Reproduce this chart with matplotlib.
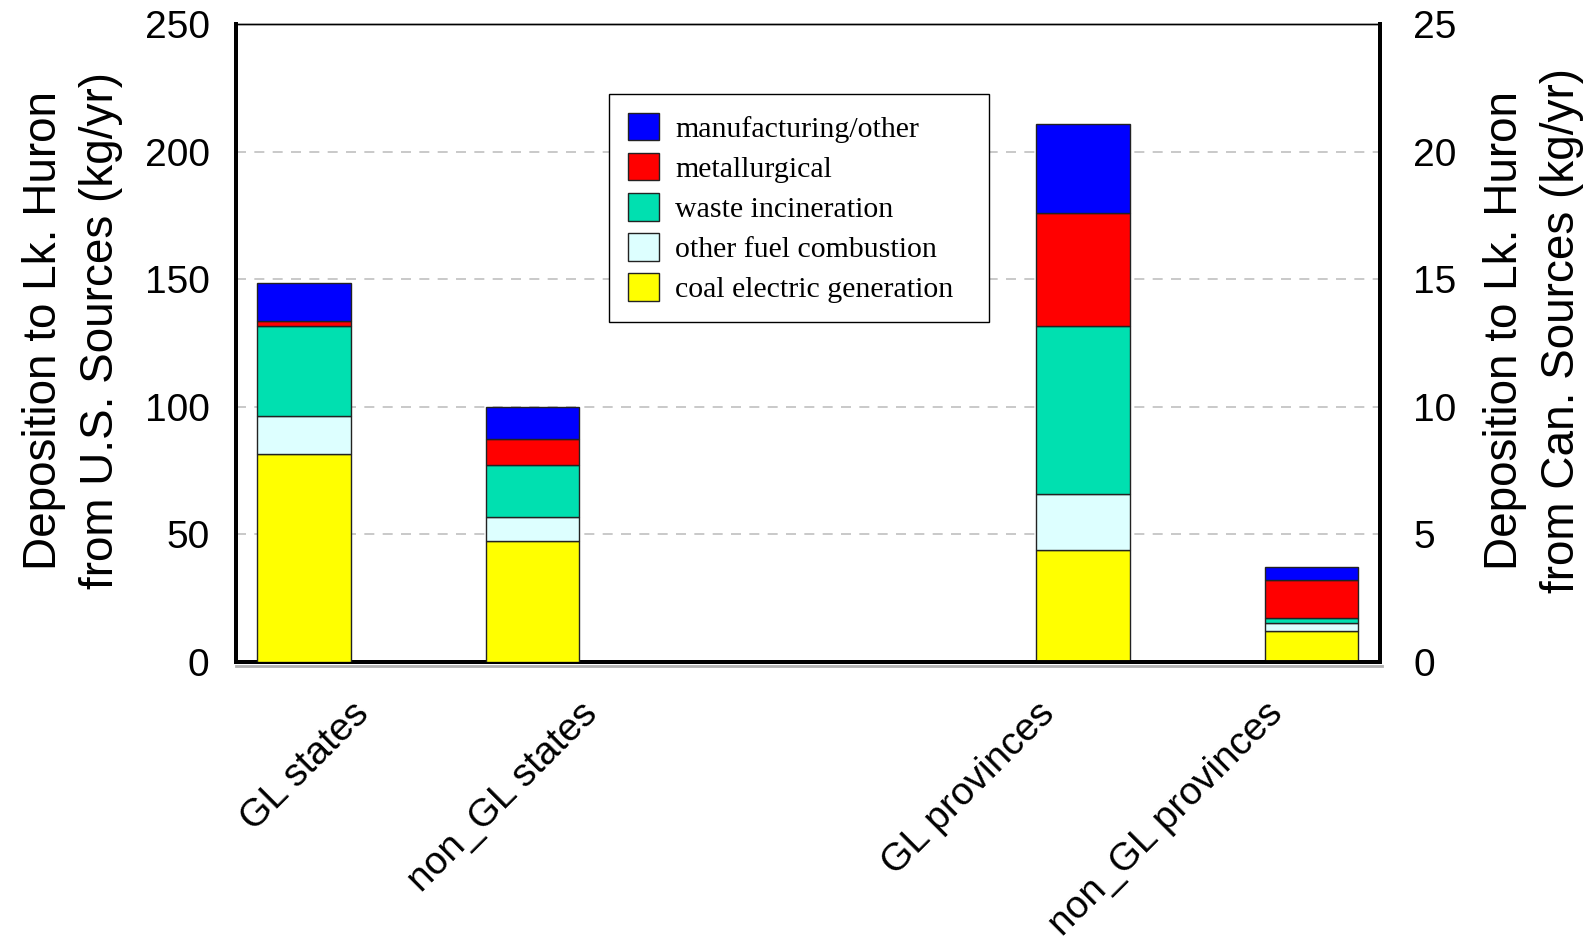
"""
Deposicion a Lk. Huron por tipo de fuente (EE.UU. vs Canada).
"""
import matplotlib
matplotlib.use('Agg')
import matplotlib.pyplot as plt
import numpy as np

plt.rcParams['font.family'] = ['Liberation Sans', 'DejaVu Sans']

# Datos (kg/yr)
categorias_us = ['GL states', 'non_GL states']
categorias_can = ['GL provinces', 'non_GL provinces']
fuentes = ['coal electric generation', 'other fuel combustion', 'waste incineration',
           'metallurgical', 'manufacturing/other']

# eje izquierdo (U.S.)
us_coal = [81.5, 47.5]
us_other_fuel = [15.0, 9.5]
us_waste = [35.0, 20.0]
us_metal = [2.0, 10.5]
us_manuf = [15.0, 12.5]

# eje derecho (Canada)
can_coal = [4.4, 1.2]
can_other_fuel = [2.2, 0.32]
can_waste = [6.55, 0.21]
can_metal = [4.45, 1.47]
can_manuf = [3.5, 0.53]

colores = ['#FFFF00', '#DDFFFF', '#00E0B0', '#FF0000', '#0000FF']

fig = plt.figure(figsize=(15.94, 9.42), dpi=100)
ax = fig.add_axes([236 / 1594, 1 - 662 / 942, (1380 - 236) / 1594, (662 - 24) / 942])
ax2 = ax.twinx()

# posiciones de las etiquetas y de las barras
x_etiquetas = np.array([0.0, 1.0, 3.0, 4.0])
ancho = 0.41
x_us = x_etiquetas[:2]
x_can = x_etiquetas[2:] + ancho

def apilar(eje, x, series):
    base = np.zeros(len(x))
    barras = []
    for valores, color in zip(series, colores):
        b = eje.bar(x, valores, ancho, bottom=base, color=color,
                    edgecolor='#222222', linewidth=1.0, zorder=3)
        barras.append(b)
        base = base + np.array(valores)
    return barras

barras = apilar(ax, x_us, [us_coal, us_other_fuel, us_waste, us_metal, us_manuf])
apilar(ax2, x_can, [can_coal, can_other_fuel, can_waste, can_metal, can_manuf])

ax.set_xlim(-0.298, 4.71)
ax.set_ylim(0, 250)
ax2.set_ylim(0, 25)
ax.set_yticks(np.arange(0, 251, 50))
ax2.set_yticks(np.arange(0, 26, 5))
ax.tick_params(axis='y', length=0, labelsize=28, pad=19)
ax2.tick_params(axis='y', length=0, labelsize=28, pad=24)

# lineas de cuadricula (detras de todas las barras)
for v in [5, 10, 15, 20]:
    ax2.axhline(v, color='#c0c0c0', linestyle=(0, (6, 5)), linewidth=1.2, zorder=1)

ax.set_xticks(x_etiquetas)
ax.set_xticklabels([])
ax.tick_params(axis='x', length=0)
for xi, etiqueta in zip(x_etiquetas, categorias_us + categorias_can):
    ax.annotate(etiqueta, xy=(xi, 0), xycoords=('data', 'axes fraction'),
                xytext=(47, -34), textcoords='offset pixels',
                rotation=45, rotation_mode='anchor', ha='right', va='top',
                fontsize=28)

ax.set_ylabel('Deposition to Lk. Huron\nfrom U.S. Sources (kg/yr)', fontsize=33,
              linespacing=1.38)
ax.yaxis.set_label_coords(-0.0988, 0.52)
ax2.set_ylabel('Deposition to Lk. Huron\nfrom Can. Sources (kg/yr)', fontsize=33,
               linespacing=1.38, rotation=90)
ax2.yaxis.set_label_coords(1.09, 0.52)

for eje in (ax, ax2):
    eje.spines['top'].set_linewidth(1.0)
    eje.spines['left'].set_linewidth(2.8)
    eje.spines['bottom'].set_linewidth(2.8)
    eje.spines['right'].set_linewidth(2.8)
ax.set_zorder(ax2.get_zorder() + 1)
ax.patch.set_visible(False)

# sombra gris bajo el eje x
ax.plot([0, 1.002], [-0.006, -0.006], transform=ax.transAxes, color='#b0b0b0',
        linewidth=2, clip_on=False, zorder=0)

leg = ax.legend(barras[::-1], fuentes[::-1], loc='upper left',
                bbox_to_anchor=(609 / 1594, 1 - 319 / 942, (989 - 609) / 1594, (319 - 94) / 942),
                bbox_transform=fig.transFigure, mode='expand',
                prop={'family': 'Liberation Serif', 'size': 21.5},
                frameon=True, fancybox=False, edgecolor='black', framealpha=1,
                handlelength=1.05, handleheight=1.05, labelspacing=0.34,
                borderpad=0.62, handletextpad=0.55, borderaxespad=0)
leg.get_frame().set_linewidth(1.0)
leg.set_zorder(10)

fig.savefig('out.png', dpi=100)
